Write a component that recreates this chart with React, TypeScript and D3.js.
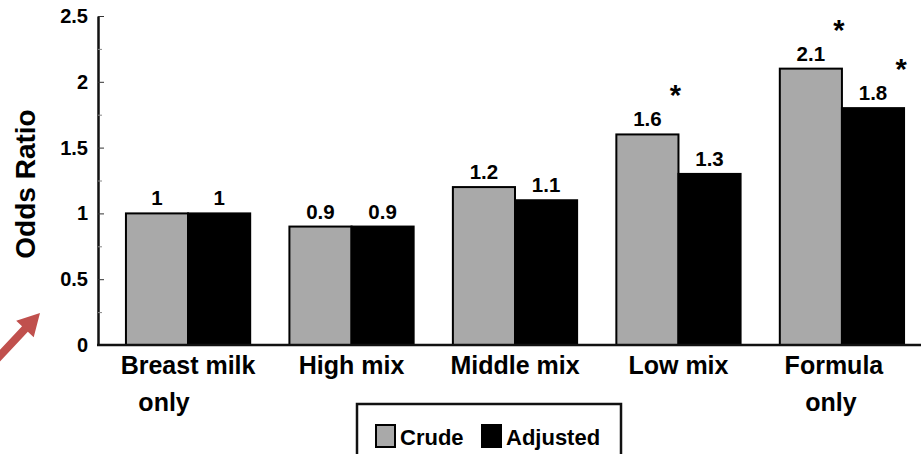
import React, { useEffect, useRef } from 'react';
import * as d3 from 'd3';

// feeding groups (multi-line labels)
const categories = [['Breast milk', 'only'], ['High mix'], ['Middle mix'], ['Low mix'], ['Formula', 'only']];
const seriesNames = ['Crude', 'Adjusted'];
const crude = [1, 0.9, 1.2, 1.6, 2.1];
const adjusted = [1, 0.9, 1.1, 1.3, 1.8];
const crudeSignificant = [false, false, false, true, true];
const adjustedSignificant = [false, false, false, false, true];
const yTicks = [0, 0.5, 1, 1.5, 2, 2.5];
const yMinorTicks = [0.25, 0.75, 1.25, 1.75, 2.25];

const colors = ['#a9a9a9', '#000000'];
const FONT = "'Liberation Sans', Arial, Helvetica, sans-serif";
// per-line horizontal nudges of the category labels
const labelShift = [[0, -24], [0], [0], [0], [-8, -11]];

function App() {
  const ref = useRef(null);

  useEffect(() => {
    const width = 921;
    const svg = d3.select(ref.current);
    svg.selectAll('*').remove();

    const y = d3.scaleLinear().domain([0, 2.5]).range([345, 16]);
    const x = d3
      .scaleBand()
      .domain(categories.map((c) => c.join(' ')))
      .range([98, 932])
      .paddingInner(0.24)
      .paddingOuter(0.171);
    const xs = d3.scaleBand().domain(seriesNames).range([0, x.bandwidth()]);

    const rows = categories.map((c, i) => ({
      key: c.join(' '),
      lines: c,
      values: [crude[i], adjusted[i]],
      sig: [crudeSignificant[i], adjustedSignificant[i]],
      shift: labelShift[i],
    }));

    // bars
    const groups = svg
      .append('g')
      .selectAll('g')
      .data(rows)
      .join('g')
      .attr('transform', (d) => 'translate(' + x(d.key) + ',0)');

    groups
      .selectAll('rect')
      .data((d) => d.values.map((v, j) => ({ v, s: seriesNames[j], j })))
      .join('rect')
      .attr('x', (d) => xs(d.s))
      .attr('y', (d) => y(d.v))
      .attr('width', xs.bandwidth())
      .attr('height', (d) => y(0) - y(d.v))
      .attr('fill', (d) => colors[d.j])
      .attr('stroke', '#000')
      .attr('stroke-width', 2);

    // value labels
    groups
      .selectAll('text.val')
      .data((d) => d.values.map((v, j) => ({ v, s: seriesNames[j] })))
      .join('text')
      .attr('class', 'val')
      .attr('x', (d) => xs(d.s) + xs.bandwidth() / 2)
      .attr('y', (d) => y(d.v) - 8)
      .attr('text-anchor', 'middle')
      .attr('font-family', FONT)
      .attr('font-weight', 'bold')
      .attr('font-size', 20.5)
      .text((d) => String(d.v));

    // significance stars
    groups
      .selectAll('text.sig')
      .data((d) => d.values.map((v, j) => ({ v, s: seriesNames[j], sig: d.sig[j] })).filter((d) => d.sig))
      .join('text')
      .attr('class', 'sig')
      .attr('x', (d) => xs(d.s) + xs.bandwidth() - 3)
      .attr('y', (d) => y(d.v) - 45 + 16)
      .attr('text-anchor', 'middle')
      .attr('font-family', FONT)
      .attr('font-weight', 'bold')
      .attr('font-size', 29)
      .text('*');

    // category labels
    groups
      .selectAll('text.cat')
      .data((d) => d.lines.map((t, k) => ({ t, k, dx: d.shift[k] || 0 })))
      .join('text')
      .attr('class', 'cat')
      .attr('x', (d) => x.bandwidth() / 2 + d.dx)
      .attr('y', (d) => 374 + d.k * 37)
      .attr('text-anchor', 'middle')
      .attr('font-family', FONT)
      .attr('font-weight', 'bold')
      .attr('font-size', 25)
      .text((d) => d.t);

    // y axis
    const yAxis = svg
      .append('g')
      .attr('transform', 'translate(98,0)')
      .call(d3.axisLeft(y).tickValues(yTicks).tickSizeInner(-6).tickSizeOuter(0).tickPadding(10).tickFormat((d) => String(d)));
    yAxis.select('.domain').attr('stroke', '#111').attr('stroke-width', 2.5);
    yAxis.selectAll('.tick line').attr('stroke', '#333').attr('stroke-width', 1);
    yAxis
      .selectAll('.tick text')
      .attr('font-family', FONT)
      .attr('font-weight', 'bold')
      .attr('font-size', 20)
      .attr('fill', '#000');

    svg
      .append('g')
      .attr('transform', 'translate(98,0)')
      .call(d3.axisLeft(y).tickValues(yMinorTicks).tickSizeInner(-4).tickSizeOuter(0).tickFormat(() => ''))
      .call((g) => g.select('.domain').remove())
      .selectAll('.tick line')
      .attr('stroke', '#888')
      .attr('stroke-width', 1);

    // baseline
    svg
      .append('line')
      .attr('x1', 97)
      .attr('x2', width)
      .attr('y1', y(0))
      .attr('y2', y(0))
      .attr('stroke', '#111')
      .attr('stroke-width', 2.5);

    // y title
    svg
      .append('text')
      .attr('transform', 'translate(35,184) rotate(-90)')
      .attr('text-anchor', 'middle')
      .attr('font-family', FONT)
      .attr('font-weight', 'bold')
      .attr('font-size', 28)
      .text('Odds Ratio');

    // legend
    const legend = svg.append('g').attr('transform', 'translate(357,404)');
    legend
      .append('rect')
      .attr('width', 264)
      .attr('height', 70)
      .attr('fill', '#fff')
      .attr('stroke', '#111')
      .attr('stroke-width', 2.5);
    const itemX = [19, 125];
    seriesNames.forEach((name, i) => {
      legend
        .append('rect')
        .attr('x', itemX[i])
        .attr('y', 21)
        .attr('width', 19)
        .attr('height', 22)
        .attr('fill', colors[i])
        .attr('stroke', '#000')
        .attr('stroke-width', 2);
      legend
        .append('text')
        .attr('x', itemX[i] + 24)
        .attr('y', 41)
        .attr('font-family', FONT)
        .attr('font-weight', 'bold')
        .attr('font-size', 22)
        .text(name);
    });

    // red pointer arrow
    const tail = [-6, 362];
    const tip = [40, 313];
    const len = Math.hypot(tip[0] - tail[0], tip[1] - tail[1]);
    const ang = (Math.atan2(tip[1] - tail[1], tip[0] - tail[0]) * 180) / Math.PI;
    const hl = 22;
    const hw = 12;
    const sw = 4;
    svg
      .append('path')
      .attr('transform', 'translate(' + tail[0] + ',' + tail[1] + ') rotate(' + ang + ')')
      .attr(
        'd',
        'M0,' + -sw + 'L' + (len - hl) + ',' + -sw + 'L' + (len - hl) + ',' + -hw + 'L' + len + ',0L' +
          (len - hl) + ',' + hw + 'L' + (len - hl) + ',' + sw + 'L0,' + sw + 'Z'
      )
      .attr('fill', '#c0504d');
  }, []);

  return (
    <svg
      ref={ref}
      width={921}
      height={454}
      style={{ position: 'absolute', left: 0, top: 0, background: '#fff' }}
    />
  );
}

export default App;
